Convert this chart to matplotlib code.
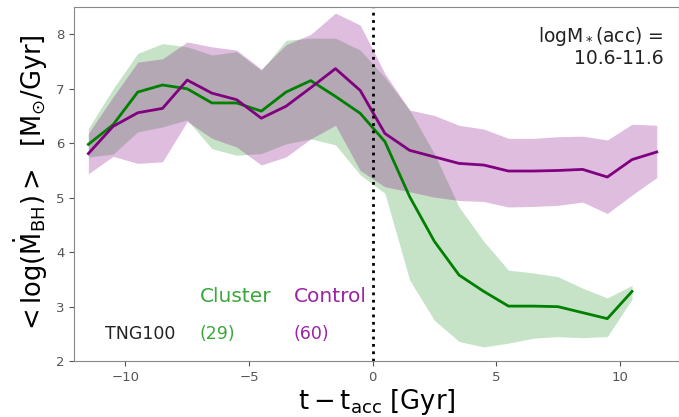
import numpy as np
import matplotlib
matplotlib.use("Agg")
import matplotlib.pyplot as plt

plt.rcParams['mathtext.default'] = 'regular'

# time since accretion (bin centres)
t_cl = np.arange(-11.5, 11.0, 1.0)
t_co = np.arange(-11.5, 12.0, 1.0)

cl_mean = [5.98, 6.34, 6.94, 7.07, 7.00, 6.74, 6.74, 6.59, 6.94, 7.15, 6.86, 6.55,
           6.03, 5.02, 4.20, 3.58, 3.28, 3.01, 3.01, 3.00, 2.89, 2.78, 3.28]
cl_hi = [6.27, 7.00, 7.65, 7.83, 7.77, 7.62, 7.68, 7.34, 7.89, 7.93, 7.93, 7.71,
         7.21, 6.61, 5.81, 4.83, 4.20, 3.67, 3.62, 3.55, 3.34, 3.16, 3.39]
cl_lo = [5.75, 5.80, 6.21, 6.30, 6.43, 5.90, 5.78, 5.81, 5.99, 6.08, 5.97, 5.42,
         5.08, 3.49, 2.75, 2.36, 2.26, 2.33, 2.42, 2.45, 2.43, 2.45, 3.14]

co_mean = [5.81, 6.31, 6.56, 6.64, 7.16, 6.92, 6.80, 6.46, 6.68, 7.02, 7.37, 6.97,
           6.18, 5.87, 5.75, 5.63, 5.60, 5.49, 5.49, 5.50, 5.52, 5.38, 5.70, 5.84]
co_hi = [6.18, 6.85, 7.49, 7.55, 7.86, 7.77, 7.71, 7.36, 7.81, 8.00, 8.39, 8.17,
         7.28, 6.61, 6.51, 6.33, 6.26, 6.09, 6.09, 6.12, 6.13, 6.06, 6.35, 6.33]
co_lo = [5.44, 5.76, 5.63, 5.66, 6.40, 6.09, 5.93, 5.60, 5.75, 6.08, 6.33, 5.50,
         5.20, 5.11, 5.01, 4.95, 4.93, 4.83, 4.84, 4.86, 4.92, 4.71, 5.05, 5.37]

fig = plt.figure(figsize=(6.79, 4.17), dpi=100)
ax = fig.add_axes([0.109, 0.134, 0.891, 0.849])

ax.fill_between(t_cl, cl_lo, cl_hi, color='green', alpha=0.22, lw=0)
ax.fill_between(t_co, co_lo, co_hi, color='purple', alpha=0.26, lw=0)
ax.plot(t_cl, cl_mean, color='green', lw=2)
ax.plot(t_co, co_mean, color='purple', lw=2)
ax.axvline(0, color='black', ls=':', lw=2)

ax.set_xlim(-12.08, 12.4)
ax.set_ylim(2, 8.5)
ax.set_xticks([-10, -5, 0, 5, 10])
ax.set_yticks([2, 3, 4, 5, 6, 7, 8])
ax.tick_params(labelsize=9.5, colors='#555555', direction='out')
for s in ax.spines.values():
    s.set_color('#888888')

ax.set_xlabel(r'$t - t_{acc}$ [Gyr]', fontsize=18.5, labelpad=2)
ax.set_ylabel(r'$< \log(\dot{M}_{BH}) >$  [M$_{\odot}$/Gyr]', fontsize=18.5, labelpad=4)

ax.text(0.975, 0.95, 'logM$_*$(acc) =\n10.6-11.6', transform=ax.transAxes,
        ha='right', va='top', fontsize=13.5, color='#222222', linespacing=1.05)
ax.text(-7.0, 3.18, 'Cluster', color='#3aa83a', fontsize=14.5, va='center')
ax.text(-3.2, 3.18, 'Control', color='#9c22a6', fontsize=14.5, va='center')
ax.text(-10.83, 2.49, 'TNG100', color='#222222', fontsize=12.5, va='center')
ax.text(-7.0, 2.49, '(29)', color='#3aa83a', fontsize=12.5, va='center')
ax.text(-3.2, 2.49, '(60)', color='#9c22a6', fontsize=12.5, va='center')

fig.savefig('out.png', dpi=100)
